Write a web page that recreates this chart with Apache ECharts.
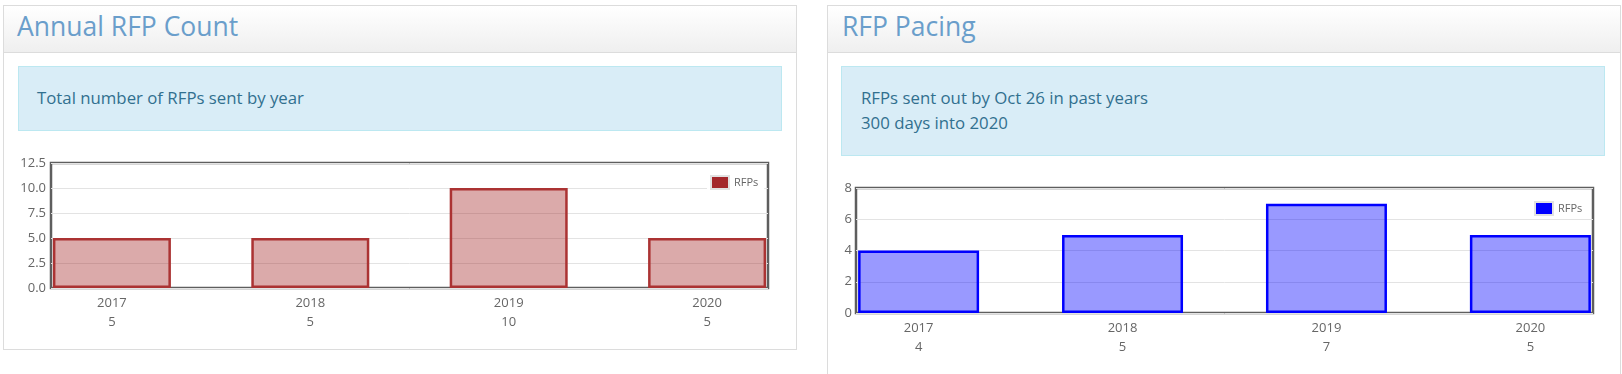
<!DOCTYPE html>
<html>
<head>
<meta charset="utf-8">
<script src="https://cdn.jsdelivr.net/npm/echarts@6/dist/echarts.min.js"></script>
<style>
  html, body { margin: 0; padding: 0; background: #fff; width: 1622px; height: 374px; overflow: hidden; font-family: "Open Sans", sans-serif; }
  .panel { position: absolute; border: 1px solid #dcdcdc; background: #fff; box-sizing: border-box; }
  .head { position: absolute; left: 0; top: 0; right: 0; height: 47px; border-bottom: 1px solid #dcdcdc;
          background: linear-gradient(#ffffff, #efefef); box-sizing: border-box; }
  .title { position: absolute; font-size: 26.5px; font-weight: 400; line-height: 36px; color: #6a9ecb; white-space: nowrap; }
  .info { position: absolute; background: #d9edf7; border: 1px solid #bce8f1; box-sizing: border-box; }
  .infotext { position: absolute; font-size: 16.8px; line-height: 25px; color: #31708f; white-space: nowrap; }
  #chart { position: absolute; left: 0; top: 0; width: 1622px; height: 374px; }
</style>
</head>
<body>
<div class="panel" style="left:3px; top:5px; width:794px; height:345px;">
  <div class="head"></div>
</div>
<div class="panel" style="left:827px; top:5px; width:794px; height:420px;">
  <div class="head"></div>
</div>
<div class="title" style="left:17px; top:8px;">Annual RFP Count</div>
<div class="title" style="left:842px; top:8px;">RFP Pacing</div>
<div class="info" style="left:18px; top:66px; width:764px; height:65px;"></div>
<div class="infotext" style="left:37px; top:85px;">Total number of RFPs sent by year</div>
<div class="info" style="left:841px; top:66px; width:764px; height:90px;"></div>
<div class="infotext" style="left:861px; top:85px;">RFPs sent out by Oct 26 in past years<br>300 days into 2020</div>
<div id="chart"></div>
<script>
const years = ['2017', '2018', '2019', '2020'];
const annualCounts = [5, 5, 10, 5];
const pacingCounts = [4, 5, 7, 5];
const seriesName = 'RFPs';
const annualYMax = 12.5, annualYStep = 2.5;
const pacingYMax = 8, pacingYStep = 2;

const positions = years.map((y, i) => i);
const chart = echarts.init(document.getElementById('chart'), null, { renderer: 'canvas' });

function xAxisFor(gridIndex, counts) {
  return {
    gridIndex: gridIndex, type: 'value', min: -0.307, max: 3.307,
    axisLine: { show: false }, axisTick: { show: false }, splitLine: { show: false },
    axisLabel: {
      customValues: positions, margin: 6, color: '#666', fontSize: 13, lineHeight: 19,
      fontFamily: 'Open Sans',
      formatter: function (v) { const i = Math.round(v); return years[i] + '\n' + counts[i]; }
    }
  };
}
function yAxisFor(gridIndex, max, step, dec, margin) {
  return {
    gridIndex: gridIndex, type: 'value', min: 0, max: max, interval: step,
    axisLine: { show: false }, axisTick: { show: false },
    splitLine: { show: true, lineStyle: { color: '#e3e3e3', width: 1 } },
    axisLabel: { margin: margin, color: '#666', fontSize: 13, fontFamily: 'Open Sans',
      formatter: function (v) { return v.toFixed(dec); } }
  };
}

chart.setOption({
  animation: false,
  grid: [
    { left: 51, top: 163, width: 717, height: 125, show: true, borderColor: '#5e5e5e', borderWidth: 2.5,
      containLabel: false, outerBoundsMode: 'none' },
    { left: 856, top: 188, width: 737, height: 125, show: true, borderColor: '#5e5e5e', borderWidth: 2.5,
      containLabel: false, outerBoundsMode: 'none' }
  ],
  xAxis: [xAxisFor(0, annualCounts), xAxisFor(1, pacingCounts)],
  yAxis: [yAxisFor(0, annualYMax, annualYStep, 1, 5), yAxisFor(1, pacingYMax, pacingYStep, 0, 4)],
  legend: [
    { data: [{ name: seriesName + ' ', itemStyle: { color: '#a4282b', borderColor: '#e2e2e2', borderWidth: 2 } }],
      left: 707, top: 172, padding: 3, backgroundColor: '#fff', itemWidth: 18, itemHeight: 13, icon: 'rect',
      textStyle: { fontSize: 11, color: '#666', fontFamily: 'Open Sans' }, selectedMode: false },
    { data: [{ name: seriesName, itemStyle: { color: '#0000ff', borderColor: '#e2e2e2', borderWidth: 2 } }],
      left: 1531, top: 198, padding: 3, backgroundColor: '#fff', itemWidth: 18, itemHeight: 13, icon: 'rect',
      textStyle: { fontSize: 11, color: '#666', fontFamily: 'Open Sans' }, selectedMode: false }
  ],
  series: [
    { name: seriesName + ' ', type: 'bar', xAxisIndex: 0, yAxisIndex: 0, barWidth: 118,
      data: annualCounts.map((v, i) => [positions[i], v]),
      itemStyle: { color: 'rgba(165,42,42,0.4)', borderColor: '#ab3333', borderWidth: 2.5 } },
    { name: seriesName, type: 'bar', xAxisIndex: 1, yAxisIndex: 1, barWidth: 121,
      data: pacingCounts.map((v, i) => [positions[i], v]),
      itemStyle: { color: 'rgba(0,0,255,0.4)', borderColor: '#0000ff', borderWidth: 2.5 } }
  ]
});
</script>
</body>
</html>
